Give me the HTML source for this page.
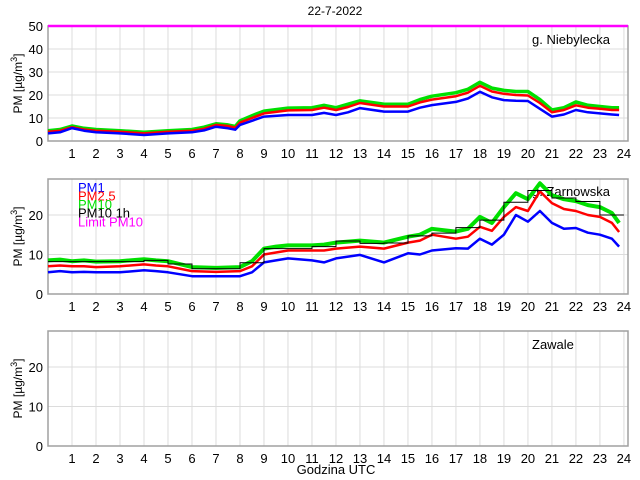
<!DOCTYPE html>
<html><head><meta charset="utf-8"><style>
body{margin:0;background:#fff;}
svg{display:block;font-family:"Liberation Sans",sans-serif;}
</style></head><body>
<svg id="c" width="640" height="480" viewBox="0 0 640 480"></svg>
<script>
const hoursA=[0,0.5,1,1.5,2,3,4,5,6,6.5,7,7.5,7.8,8,8.5,9,10,11,11.5,12,12.5,13,14,15,15.5,16,17,17.5,18,18.5,19,19.5,20,20.5,21,21.5,22,22.5,23,23.5,23.8];
const pm1A=[3.3,3.8,5.6,4.5,3.8,3.3,2.6,3.3,3.8,4.6,6.2,5.5,4.9,7,8.8,10.6,11.3,11.3,12.2,11.3,12.5,14.3,12.8,12.8,14.5,15.6,17,18.5,21.4,19,17.8,17.5,17.4,14,10.6,11.5,13.5,12.5,12,11.5,11.3];
const pm25A=[4,4.5,6,5,4.5,4,3.3,4,4.5,5.3,7,6.5,5.8,8,10,12,13.3,13.5,14.5,13.5,14.8,16.5,15,15,16.8,18,19.5,21,24,21.5,20.5,20,19.8,16.5,12.5,13.5,15.5,14.5,14,13.5,13.5];
const pm10A=[4.5,5,6.5,5.5,5,4.5,3.8,4.5,5,6,7.5,7,6.3,8.8,11,13,14.3,14.5,15.5,14.5,16,17.5,16,16,18,19.5,21,22.5,25.5,23,22,21.5,21.5,18,13.5,14.5,17,15.5,15,14.5,14.5];
const hoursB=[0,0.5,1,1.5,2,3,4,4.5,5,6,7,8,8.5,9,9.5,10,11,11.5,12,13,14,15,15.5,16,17,17.5,18,18.5,19,19.5,20,20.5,21,21.5,22,22.5,23,23.5,23.8];
const pm1B=[5.5,5.8,5.5,5.6,5.5,5.5,6,5.8,5.5,4.5,4.5,4.5,5.5,8,8.5,9,8.5,8,9,9.9,8,10.3,10,11,11.6,11.5,14,12.5,15,20,18.3,21,18,16.5,16.7,15.5,15,14,12];
const pm25B=[7,7.2,7,7,6.8,7,7.5,7.2,7,5.8,5.6,5.8,7,10,10.5,11,11,11,11.5,12,11.5,13,13.5,15,14,14.5,17,16,19.5,22,21,26,23,21.5,21,20,19.5,18,15.7];
const pm10B=[8.5,8.7,8.3,8.5,8.2,8.3,8.8,8.5,8.3,6.8,6.6,6.8,8.3,11.5,12,12.3,12.3,12.5,13,13.5,13,14.5,15,16.5,15.8,16.5,19.5,18,22,25.5,24,28,25,24,23.5,22.5,22,20.5,18];
const stepHours=[0,1,2,3,4,5,6,7,8,9,10,11,12,13,14,15,16,17,18,19,20,21,22,23];
const stepPM10=[8.2,8.2,8.2,8.2,8.5,7.6,6.4,6.4,7.9,11.5,11.5,12,13.4,12.8,12.9,14.7,15.4,16.8,18.7,23.2,26.2,24.3,23.4,20];
const xTicks=[1,2,3,4,5,6,7,8,9,10,11,12,13,14,15,16,17,18,19,20,21,22,23,24];
const yTicks1=[0,10,20,30,40,50];
const yTicks2=[0,10,20];
const limitPM10=[50];

const svg=document.getElementById('c');
const NS='http://www.w3.org/2000/svg';
function mk(tag,attrs,parent){const e=document.createElementNS(NS,tag);for(const k in attrs)e.setAttribute(k,attrs[k]);(parent||svg).appendChild(e);return e;}
const X0=48,X1=628,XMAX=24.17;
function xs(h){return X0+(X1-X0)*h/XMAX;}
const panels=[
 {top:26,bot:141,ymax:50,ticks:yTicks1,name:'g. Niebylecka',ly:44,key:'niebylecka'},
 {top:179,bot:294,ymax:29.1,ticks:yTicks2,name:'g. Zarnowska',ly:196,key:'zarnowska'},
 {top:331,bot:446,ymax:29.1,ticks:yTicks2,name:'Zawale',ly:349,key:'zawale'}];
function ysF(p){return v=>p.bot-(p.bot-p.top)*v/p.ymax;}

panels.forEach((p,i)=>{
 const ys=ysF(p);
 const g=mk('g',{});
 
 
 xTicks.forEach(t=>{const l=mk('line',{x1:xs(t),x2:xs(t),y1:p.top,y2:p.bot,stroke:'#dcdcdc','stroke-width':1},g);
  
  const tx=mk('text',{x:xs(t),y:p.bot+17,'font-size':13,'text-anchor':'middle',fill:'#000'},g);tx.textContent=t;
  });
 p.ticks.forEach(t=>{const l=mk('line',{x1:X0,x2:X1,y1:ys(t),y2:ys(t),stroke:'#dcdcdc','stroke-width':1},g);
  
  const tx=mk('text',{x:43,y:ys(t)+5,'font-size':13,'text-anchor':'end',fill:'#000'},g);tx.textContent=t;
  });
 const fr=mk('rect',{x:X0,y:p.top,width:X1-X0,height:p.bot-p.top,fill:'none',stroke:'#a0a0a0','stroke-width':1.5},g);
 
 const yl=mk('text',{x:0,y:0,'font-size':12,'text-anchor':'middle',transform:`translate(22,${(p.top+p.bot)/2}) rotate(-90)`},g);
 yl.innerHTML='PM [µg/m<tspan dy="-5" font-size="9">3</tspan><tspan dy="5">]</tspan>';
 
 const st=mk('text',{x:532,y:p.ly,'font-size':13,fill:'#000'},g);st.textContent=p.name;
 
 p.g=g;
});

function line(p,hs,vals,color,w,name){
 const ys=ysF(p);
 const d=hs.map((h,i)=>(i?'L':'M')+xs(h).toFixed(1)+','+ys(vals[i]).toFixed(1)).join('');
 const e=mk('path',{d:d,fill:'none',stroke:color,'stroke-width':w,'stroke-linejoin':'round'},p.g);
 
 
}
function steps(p,hs,vals,name){
 const ys=ysF(p);let d='';
 hs.forEach((h,i)=>{d+=(i?'L':'M')+xs(h).toFixed(1)+','+ys(vals[i]).toFixed(1)+'L'+xs(h+1).toFixed(1)+','+ys(vals[i]).toFixed(1);});
 const e=mk('path',{d:d,fill:'none',stroke:'#000','stroke-width':1},p.g);
 
 
}
const P1=panels[0],P2=panels[1];
line(P1,hoursA,pm10A,'#00e000',3.5,'pm10-line-niebylecka');
line(P1,hoursA,pm25A,'#ff0000',2.5,'pm25-line-niebylecka');
line(P1,hoursA,pm1A,'#0000ff',2.5,'pm1-line-niebylecka');
const lim=mk('line',{x1:X0,x2:X1,y1:ysF(P1)(limitPM10[0]),y2:ysF(P1)(limitPM10[0]),stroke:'#ff00ff','stroke-width':2.5},P1.g);


line(P2,hoursB,pm10B,'#00e000',4,'pm10-line-zarnowska');
line(P2,hoursB,pm25B,'#ff0000',2.5,'pm25-line-zarnowska');
line(P2,hoursB,pm1B,'#0000ff',2.5,'pm1-line-zarnowska');
steps(P2,stepHours,stepPM10,'pm10-1h-steps');

const leg=[['PM1','#0000ff',192],['PM2.5','#ff0000',200.5],['PM10','#00e000',209],['PM10 1h','#000',217.5],['Limit PM10','#ff00ff',226.5]];
leg.forEach(l=>{const t=mk('text',{x:78,y:l[2],'font-size':13,fill:l[1]});t.textContent=l[0];
 });
const ti=mk('text',{x:335,y:15,'font-size':12,'text-anchor':'middle'});ti.textContent='22-7-2022';

const xt=mk('text',{x:336,y:474,'font-size':13,'text-anchor':'middle'});xt.textContent='Godzina UTC';

</script>
</body></html>
